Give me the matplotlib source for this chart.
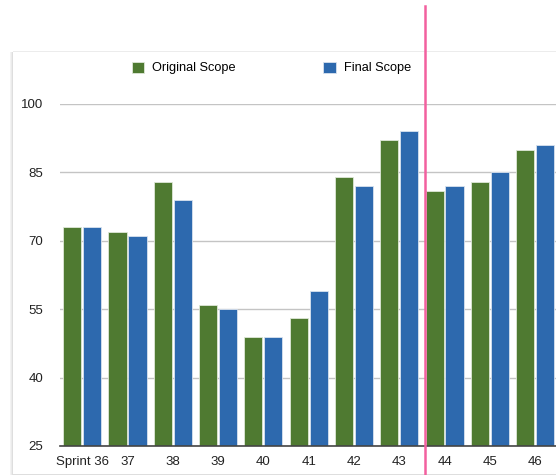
import matplotlib
matplotlib.use('Agg')
import matplotlib.pyplot as plt
from matplotlib.patches import Rectangle
import numpy as np

plt.rcParams['font.family'] = ['Liberation Sans', 'DejaVu Sans']

# data
sprints = ["Sprint 36", "37", "38", "39", "40", "41", "42", "43", "44", "45", "46"]
original_scope = [73, 72, 83, 56, 49, 53, 84, 92, 81, 83, 90]
final_scope = [73, 71, 79, 55, 49, 59, 82, 94, 82, 85, 91]
y_ticks = [25, 40, 55, 70, 85, 100]

GREEN = '#4f7a31'
BLUE = '#2d69ae'
PINK = '#f2609f'

W, H = 556, 475
fig = plt.figure(figsize=(W / 100, H / 100), dpi=100, facecolor='white')

# card with a soft shadow (mostly on the left / bottom)
for off, col in [(3, '#f3f3f3'), (2, '#ebebeb'), (1, '#dedede')]:
    fig.add_artist(Rectangle(((13 - off) / W, 1 - (474 + off) / H), (560 - 13 + 2 * off) / W,
                             (474 - 52 + off) / H, transform=fig.transFigure,
                             facecolor=col, edgecolor='none', zorder=0))
fig.add_artist(Rectangle((13 / W, 1 - 474 / H), (560 - 13) / W, (474 - 52) / H,
                         transform=fig.transFigure, facecolor='white',
                         edgecolor='none', zorder=0))
fig.add_artist(Rectangle((13 / W, 1 - 52 / H), (560 - 13) / W, 0.6 / H,
                         transform=fig.transFigure, facecolor='#ececec',
                         edgecolor='none', zorder=0))

ax = fig.add_axes([60 / W, 1 - 446 / H, (W - 60) / W, (446 - 104) / H])
ax.set_facecolor('none')

x = np.arange(len(sprints))
off = 0.22
b1 = ax.bar(x - off, original_scope, width=0.4, color=GREEN, edgecolor='#dfe8d8',
            linewidth=0.6, label='Original Scope', zorder=3)
b2 = ax.bar(x + off, final_scope, width=0.4, color=BLUE, edgecolor='#d8e2ef',
            linewidth=0.6, label='Final Scope', zorder=3)

ax.set_xlim(-0.49, 10.46)
ax.set_ylim(25, 100)
ax.set_yticks(y_ticks)
ax.set_xticks(x)
ax.set_xticklabels(sprints)
ax.yaxis.grid(True, color='#c4c4c4', linewidth=1.0, zorder=0)
ax.tick_params(axis='both', length=0, labelsize=9.5, colors='#222222')
ax.tick_params(axis='y', pad=12)
ax.tick_params(axis='x', pad=7.5)
for s in ['top', 'right', 'left']:
    ax.spines[s].set_visible(False)
ax.spines['bottom'].set_color('#444444')
ax.spines['bottom'].set_linewidth(1.2)
ax.spines['bottom'].set_zorder(4)

ax.legend(handles=[b1, b2], loc='center left', bbox_to_anchor=(120 / W, 1 - 68 / H),
          bbox_transform=fig.transFigure, ncol=2, frameon=False, fontsize=9.2,
          handlelength=0.95, handleheight=0.95, handletextpad=0.63, columnspacing=6.9)

# pink marker line
ax.axvline(7.57, ymin=-0.085, ymax=(446 - 6) / 342, color=PINK, linewidth=1.8,
           clip_on=False, zorder=6)

fig.savefig('out.png', dpi=100, facecolor='white')
